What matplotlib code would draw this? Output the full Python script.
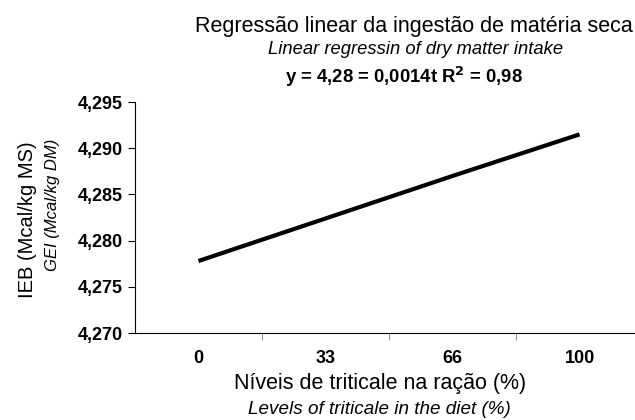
import matplotlib.pyplot as plt

plt.rcParams['font.family'] = ['Liberation Sans', 'DejaVu Sans']

niveis = ["0", "33", "66", "100"]
ieb = [4.2778, 4.2824, 4.2870, 4.2915]
yticks = [4.270, 4.275, 4.280, 4.285, 4.290, 4.295]
ylabels = ["4,270", "4,275", "4,280", "4,285", "4,290", "4,295"]

fig = plt.figure(figsize=(6.35, 4.2), dpi=100)
# o eixo x continua um pouco além da borda direita, como no original
ax = fig.add_axes([0.2126, 0.207, 0.8, 0.55])

x = list(range(len(niveis)))
ax.plot(x, ieb, color="black", linewidth=3, solid_capstyle="butt", clip_on=False)

ax.set_xlim(-0.5, len(niveis) - 0.5)
ax.set_ylim(4.270, 4.295)
ax.set_yticks(yticks)
ax.set_yticklabels(ylabels, fontsize=13, fontweight="bold")
ax.set_xticks(x)
ax.set_xticklabels(niveis, fontsize=13, fontweight="bold")
ax.tick_params(axis="x", length=0, pad=12)
ax.set_xticks([i + 0.5 for i in x[:-1]], minor=True)
ax.tick_params(axis="x", which="minor", length=5, direction="out", color="#808080")
ax.tick_params(axis="y", length=5, direction="out", pad=4)

for s in ["top", "right"]:
    ax.spines[s].set_visible(False)

fig.text(0.651, 0.936, "Regressão linear da ingestão de matéria seca", ha="center", va="center", fontsize=15.5)
fig.text(0.654, 0.881, "Linear regressin of dry matter intake", ha="center", va="center", fontsize=13.2, style="italic")
fig.text(0.636, 0.817, r"y = 4,28 = 0,0014t R$^{\mathbf{2}}$ = 0,98", ha="center", va="center", fontsize=13.3, fontweight="bold")

fig.text(0.044, 0.476, "IEB (Mcal/kg MS)", rotation=90, ha="center", va="center", fontsize=14.5)
fig.text(0.082, 0.512, "GEI (Mcal/kg DM)", rotation=90, ha="center", va="center", fontsize=12, style="italic")

fig.text(0.598, 0.087, "Níveis de triticale na ração (%)", ha="center", va="center", fontsize=15.5)
fig.text(0.598, 0.024, "Levels of triticale in the diet (%)", ha="center", va="center", fontsize=13.6, style="italic")

fig.savefig("out.png", dpi=100)
